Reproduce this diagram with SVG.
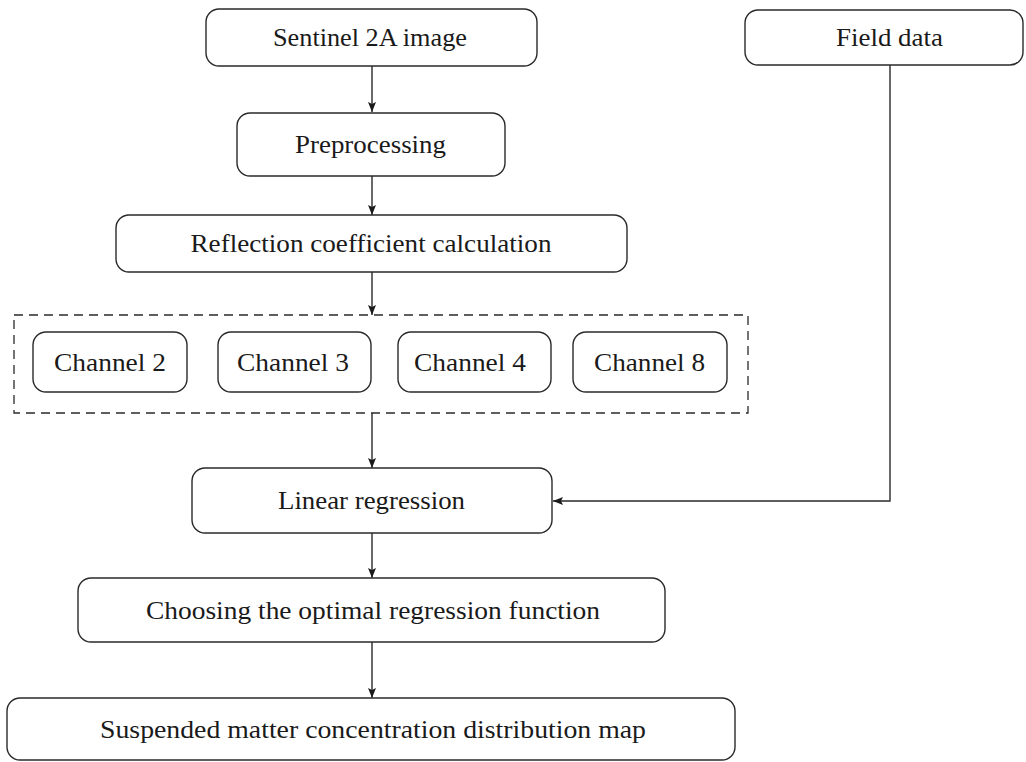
<svg xmlns="http://www.w3.org/2000/svg" width="1026" height="762" viewBox="0 0 1026 762">
<style>
.box{fill:#fff;stroke:#2a2a2a;stroke-width:1.4}
.t{font-family:"Liberation Serif","Times New Roman",serif;font-size:26px;fill:#1a1a1a;text-anchor:middle;dominant-baseline:central}
.c{fill:none;stroke:#2a2a2a;stroke-width:1.4}
.dash{fill:none;stroke:#2a2a2a;stroke-width:1.3;stroke-dasharray:9 6}
</style>
<defs>
<marker id="ah" viewBox="0 0 10 10" refX="10" refY="5" markerWidth="10" markerHeight="10" markerUnits="userSpaceOnUse" orient="auto">
<path d="M0,1 L10,5 L0,9 L2,5 Z" fill="#1a1a1a"/>
</marker>
</defs>
<rect width="1026" height="762" fill="#fff"/>
<g id="connectors">
<line class="c" x1="372" y1="66" x2="372" y2="112" marker-end="url(#ah)"/>
<line class="c" x1="372" y1="176" x2="372" y2="215" marker-end="url(#ah)"/>
<line class="c" x1="372" y1="272" x2="372" y2="315" marker-end="url(#ah)"/>
<line class="c" x1="372" y1="413" x2="372" y2="468" marker-end="url(#ah)"/>
<polyline class="c" points="890,65 890,501 553,501" marker-end="url(#ah)"/>
<line class="c" x1="372" y1="533" x2="372" y2="578" marker-end="url(#ah)"/>
<line class="c" x1="372" y1="642" x2="372" y2="698" marker-end="url(#ah)"/>
</g>
<g id="sentinel"><rect class="box" x="206" y="9" width="331" height="57" rx="13"/><text class="t" x="370" y="37.5" textLength="194" lengthAdjust="spacingAndGlyphs">Sentinel 2A image</text></g>
<g id="field"><rect class="box" x="745" y="10" width="278" height="55" rx="13"/><text class="t" x="889.5" y="37.5" textLength="107" lengthAdjust="spacingAndGlyphs">Field data</text></g>
<g id="preprocessing"><rect class="box" x="237" y="113" width="268" height="63" rx="13"/><text class="t" x="370.5" y="144.5" textLength="151" lengthAdjust="spacingAndGlyphs">Preprocessing</text></g>
<g id="reflection"><rect class="box" x="116" y="215" width="511" height="57" rx="13"/><text class="t" x="371" y="243.5" textLength="361" lengthAdjust="spacingAndGlyphs">Reflection coefficient calculation</text></g>
<g id="channels"><rect class="dash" x="14" y="315" width="734" height="98"/></g>
<g id="channel2"><rect class="box" x="33" y="332" width="154" height="60" rx="13"/><text class="t" x="110" y="362" textLength="112" lengthAdjust="spacingAndGlyphs">Channel 2</text></g>
<g id="channel3"><rect class="box" x="218" y="332" width="153" height="60" rx="13"/><text class="t" x="293" y="362" textLength="112" lengthAdjust="spacingAndGlyphs">Channel 3</text></g>
<g id="channel4"><rect class="box" x="398" y="332" width="153" height="60" rx="13"/><text class="t" x="470" y="362" textLength="112" lengthAdjust="spacingAndGlyphs">Channel 4</text></g>
<g id="channel8"><rect class="box" x="573" y="332" width="154" height="60" rx="13"/><text class="t" x="649.5" y="362" textLength="111" lengthAdjust="spacingAndGlyphs">Channel 8</text></g>
<g id="linear"><rect class="box" x="192" y="468" width="360" height="65" rx="13"/><text class="t" x="371.5" y="500.5" textLength="187" lengthAdjust="spacingAndGlyphs">Linear regression</text></g>
<g id="choosing"><rect class="box" x="78" y="578" width="587" height="64" rx="13"/><text class="t" x="373" y="610" textLength="454" lengthAdjust="spacingAndGlyphs">Choosing the optimal regression function</text></g>
<g id="map"><rect class="box" x="7" y="698" width="728" height="62" rx="13"/><text class="t" x="373" y="729" textLength="546" lengthAdjust="spacingAndGlyphs">Suspended matter concentration distribution map</text></g>
</svg>
